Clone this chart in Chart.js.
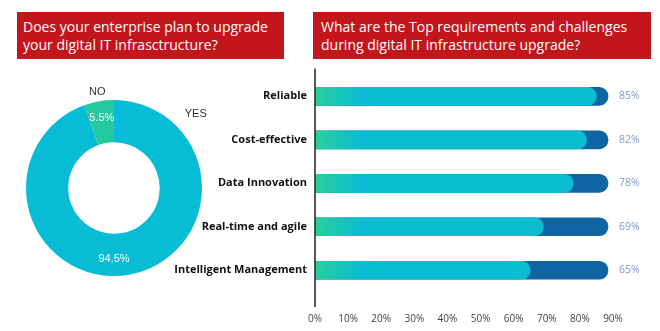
<!DOCTYPE html>
<html>
<head>
<meta charset="utf-8">
<script src="https://cdn.jsdelivr.net/npm/chart.js@4"></script>
<style>
  html, body { margin: 0; padding: 0; background: #fff; }
  body { width: 660px; height: 331px; position: relative; overflow: hidden; font-family: 'Open Sans', sans-serif; }
  .title { position: absolute; top: 12px; height: 47px; background: #c3161c; color: #fff; box-sizing: border-box;
           padding: 6px 0 0 6px; font-size: 14px; line-height: 18px; font-weight: 500; }
  #t1 { left: 17px; width: 267px; }
  #t2 { left: 313px; width: 338px; padding-left: 8px; }
  .box { position: absolute; }
  #pieBox { left: 0; top: 60px; width: 228px; height: 256px; }
  #barBox { left: 160px; top: 60px; width: 500px; height: 271px; }
</style>
</head>
<body>
<div class="title" id="t1">Does your enterprise plan to upgrade<br>your digital IT infrasctructure?</div>
<div class="title" id="t2">What are the Top requirements and challenges<br>during digital IT infrastructure upgrade?</div>
<div class="box" id="pieBox"><canvas id="pieChart"></canvas></div>
<div class="box" id="barBox"><canvas id="barChart"></canvas></div>
<script>
// donut data
const pieLabels = ['YES', 'NO'];
const pieValues = [94.5, 5.5];

// bar data
const barLabels = ['Reliable', 'Cost-effective', 'Data Innovation', 'Real-time and agile', 'Intelligent Management'];
const barValues = [85, 82, 78, 69, 65];
const trackValues = [88.5, 88.5, 88.5, 88.5, 88.5];
const xTicks = [0, 10, 20, 30, 40, 50, 60, 70, 80, 90];

const CYAN = '#0abdd1';
const GREEN = '#2bcf9c';
const DARK = '#0f64a3';

// labels around / inside the donut (angles in degrees from top, clockwise)
const pieLabelPlugin = {
  id: 'pieLabels',
  afterDatasetsDraw(chart) {
    const arcs = chart.getDatasetMeta(0).data;
    const ctx = chart.ctx;
    const outerAngles = [48, null];
    const innerAngles = [180, null];
    ctx.save();
    ctx.textAlign = 'center';
    ctx.textBaseline = 'middle';
    arcs.forEach((arc, i) => {
      const { x, y, outerRadius, innerRadius, startAngle, endAngle } = arc.getProps(['x', 'y', 'outerRadius', 'innerRadius', 'startAngle', 'endAngle'], true);
      const mid = (startAngle + endAngle) / 2;
      const oa = outerAngles[i] != null ? (outerAngles[i] - 90) * Math.PI / 180 : mid;
      const ia = innerAngles[i] != null ? (innerAngles[i] - 90) * Math.PI / 180 : mid;
      const ro = i === 0 ? outerRadius + 22 : outerRadius + 9;
      ctx.font = '11px "Liberation Sans", Arial, sans-serif';
      ctx.fillStyle = '#333';
      ctx.fillText(pieLabels[i], x + Math.cos(oa) * ro, y + Math.sin(oa) * ro);
      const ri = (outerRadius + innerRadius) / 2 + 4;
      ctx.fillStyle = '#fff';
      ctx.fillText(pieValues[i] + '%', x + Math.cos(ia) * ri, y + Math.sin(ia) * ri);
    });
    ctx.restore();
  }
};

new Chart(document.getElementById('pieChart'), {
  type: 'doughnut',
  data: {
    labels: pieLabels,
    datasets: [{ data: pieValues, backgroundColor: ['#07bcd4', '#25c99f'], borderWidth: 0 }],
  },
  options: {
    responsive: true,
    maintainAspectRatio: false,
    animation: false,
    cutout: '52%',
    layout: { padding: { left: 26, right: 26, top: 40, bottom: 40 } },
    plugins: { legend: { display: false }, tooltip: { enabled: false } },
  },
  plugins: [pieLabelPlugin],
});

// y axis line (longer than the plot area) and value labels after the bars
const barExtras = {
  id: 'barExtras',
  afterDatasetsDraw(chart) {
    const { ctx, chartArea, scales } = chart;
    ctx.save();
    ctx.strokeStyle = '#222';
    ctx.lineWidth = 1.5;
    ctx.beginPath();
    ctx.moveTo(chartArea.left, chartArea.top - 6);
    ctx.lineTo(chartArea.left, chartArea.bottom + 15);
    ctx.stroke();
    ctx.font = '10.5px "Open Sans", sans-serif';
    ctx.fillStyle = '#7b9bc8';
    ctx.textBaseline = 'middle';
    barValues.forEach((v, i) => {
      ctx.fillText(v + '%', scales.x.getPixelForValue(trackValues[i]) + 11, scales.y.getPixelForValue(i));
    });
    ctx.restore();
  }
};

new Chart(document.getElementById('barChart'), {
  type: 'bar',
  data: {
    labels: barLabels,
    datasets: [
      {
        data: barValues,
        backgroundColor: (c) => {
          const area = c.chart.chartArea;
          if (!area) return CYAN;
          const g = c.chart.ctx.createLinearGradient(area.left, 0, area.left + 45, 0);
          g.addColorStop(0, GREEN);
          g.addColorStop(1, CYAN);
          return g;
        },
        borderRadius: 9, borderSkipped: 'start', barThickness: 18, grouped: false,
      },
      { data: trackValues, backgroundColor: DARK, borderRadius: 9, borderSkipped: 'start', barThickness: 18, grouped: false },
    ],
  },
  options: {
    indexAxis: 'y',
    responsive: true,
    maintainAspectRatio: false,
    animation: false,
    layout: { padding: { top: 14, right: 47, bottom: 0, left: 0 } },
    plugins: { legend: { display: false }, tooltip: { enabled: false } },
    scales: {
      x: {
        min: 0, max: 90,
        afterBuildTicks: (s) => { s.ticks = xTicks.map(v => ({ value: v })); },
        afterFit: (s) => { s.height = 39; },
        grid: { display: false, drawTicks: false },
        border: { display: false },
        ticks: { padding: 21, color: '#444', font: { family: 'Open Sans', size: 10 }, callback: (v) => v + '%' },
      },
      y: {
        afterFit: (s) => { s.width = 155; },
        grid: { display: false, drawTicks: false },
        border: { display: false },
        ticks: { padding: 8, color: '#111', font: { family: 'Open Sans', size: 11, weight: 'bold' } },
      },
    },
  },
  plugins: [barExtras],
});
</script>
</body>
</html>
